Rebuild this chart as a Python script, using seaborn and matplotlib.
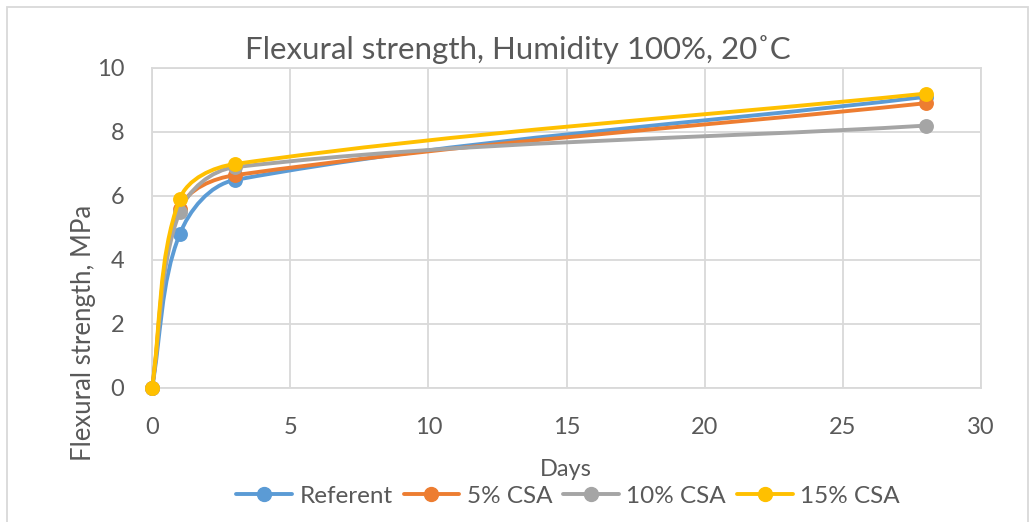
import numpy as np
import matplotlib
matplotlib.use("Agg")
import matplotlib.pyplot as plt
import seaborn as sns
from matplotlib.path import Path
from matplotlib.patches import PathPatch, Rectangle
from matplotlib.lines import Line2D

# ── data ────────────────────────────────────────────────────────────────────
days = [0, 1, 3, 28]
referent = [0, 4.8, 6.5, 9.1]
csa_5 = [0, 5.6, 6.65, 8.9]
csa_10 = [0, 5.5, 6.9, 8.2]
csa_15 = [0, 5.9, 7.0, 9.2]

series_names = ["Referent", "5% CSA", "10% CSA", "15% CSA"]
series_values = [referent, csa_5, csa_10, csa_15]
series_colors = ["#5B9BD5", "#ED7D31", "#A5A5A5", "#FFC000"]

TEXT = "#595959"
GRID = "#D9D9D9"

sns.set_theme(style="white")
plt.rcParams["font.family"] = ["Lato", "DejaVu Sans"]

W, H, DPI = 1032, 522, 100
fig = plt.figure(figsize=(W / DPI, H / DPI), dpi=DPI)
ax = fig.add_axes([152 / W, 1 - 388 / H, (981 - 152) / W, (388 - 68) / H])

XMAX, YMAX = 30, 10
ax.set_xlim(0, XMAX)
ax.set_ylim(0, YMAX)
sx = (981 - 152) / XMAX   # px per day
sy = (388 - 68) / YMAX    # px per MPa


def smooth_path(xs, ys):
    """Excel-like smoothed line: cubic Bezier, tangents from neighbours, in pixel space."""
    P = np.column_stack([np.asarray(xs, float) * sx, np.asarray(ys, float) * sy])
    n = len(P)
    tang = []
    for i in range(n):
        a = P[max(i - 1, 0)]
        b = P[min(i + 1, n - 1)]
        v = b - a
        tang.append(v / np.hypot(*v))
    verts = [P[0]]
    codes = [Path.MOVETO]
    for i in range(n - 1):
        d = np.hypot(*(P[i + 1] - P[i]))
        k = d / 3.0
        verts += [P[i] + tang[i] * k, P[i + 1] - tang[i + 1] * k, P[i + 1]]
        codes += [Path.CURVE4] * 3
    verts = np.array(verts) / np.array([sx, sy])
    return Path(verts, codes)


for i, (name, vals, col) in enumerate(zip(series_names, series_values, series_colors)):
    patch = PathPatch(smooth_path(days, vals), facecolor="none", edgecolor=col,
                      lw=2.8, capstyle="round", joinstyle="round",
                      zorder=3 + 2 * i, clip_on=False)
    ax.add_patch(patch)
    sns.scatterplot(x=days, y=vals, color=col, s=115, linewidth=0,
                    zorder=4 + 2 * i, clip_on=False, legend=False, ax=ax)

ax.set_xticks(np.arange(0, 31, 5))
ax.set_yticks(np.arange(0, 11, 2))
ax.grid(True, color=GRID, lw=1.3)
for sp in ax.spines.values():
    sp.set_color(GRID)
    sp.set_linewidth(1.3)
ax.tick_params(axis="both", length=0, labelsize=17, labelcolor=TEXT)
ax.tick_params(axis="y", pad=20)
ax.tick_params(axis="x", pad=21)
ax.set_xlabel("")
ax.set_ylabel("")

fig.text(518 / W, 1 - 50 / H, "Flexural strength, Humidity 100%, 20˚C",
         ha="center", va="center", fontsize=22.5, color=TEXT)
fig.text(566 / W, 1 - 470 / H, "Days", ha="center", va="center",
         fontsize=17, color=TEXT)
fig.text(83 / W, 1 - 333 / H, "Flexural strength, MPa", ha="center", va="center",
         rotation=90, fontsize=18.5, color=TEXT)

handles = [Line2D([], [], color=c, lw=2.8, marker="o", ms=10, mec=c)
           for c in series_colors]
leg = fig.legend(handles, series_names, loc="center", bbox_to_anchor=(568 / W, 1 - 496 / H),
                 ncol=4, frameon=False, fontsize=17.5, handlelength=2.3,
                 handletextpad=0.3, columnspacing=0.45)
for t in leg.get_texts():
    t.set_color(TEXT)

fig.patches.append(Rectangle((7 / W, -0.05), (1028 - 7) / W, 1.05 - 7 / H,
                             transform=fig.transFigure, fill=False,
                             edgecolor=GRID, lw=1.3))

fig.savefig("out.png", dpi=DPI)
